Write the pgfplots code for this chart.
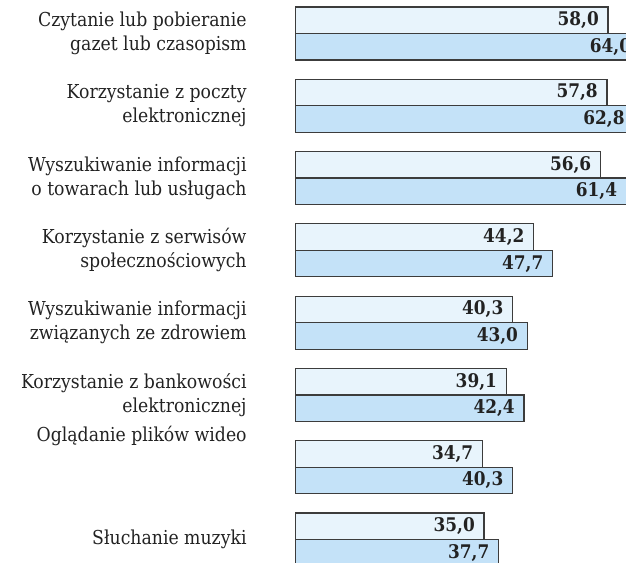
\documentclass[border=0pt]{standalone}
\usepackage{pgfplots}
\pgfplotsset{compat=1.18}
\usepackage{fontspec}
\setmainfont{DejaVu Serif Condensed}
\definecolor{barA}{HTML}{E8F4FC}
\definecolor{barB}{HTML}{C4E2F8}
\definecolor{edge}{HTML}{3C3C3C}
\definecolor{txt}{HTML}{222222}
\begin{document}
\begin{tikzpicture}
\begin{axis}[
  x=2.695pt, y=36.15pt,
  y dir=reverse,
  xmin=0, xmax=70, ymin=-0.463, ymax=7.6,
  axis x line=none,
  axis y line*=left,
  y axis line style={draw=none},
  clip=false,
  ytick={0,...,7},
  yticklabels={
    {Czytanie lub pobieranie\\gazet lub czasopism},
    {Korzystanie z poczty\\elektronicznej},
    {Wyszukiwanie informacji\\o towarach lub usługach},
    {Korzystanie z serwisów\\społecznościowych},
    {Wyszukiwanie informacji\\związanych ze zdrowiem},
    {Korzystanie z bankowości\\elektronicznej},
    {\raisebox{33pt}{Oglądanie plików wideo}},
    {Słuchanie muzyki}},
  yticklabel style={align=right, font=\fontsize{9.6}{12}\selectfont, text=txt, inner sep=0pt, anchor=east, xshift=-24.25pt},
  major tick length=0pt,
  bar width=13.25pt,
  point meta=x,
  nodes near coords,
  /pgf/number format/.cd, fixed, fixed zerofill, precision=1, use comma, assume math mode=true,
  /pgfplots/.cd,
  every node near coord/.append style={anchor=east, xshift=-1pt, font=\bfseries\fontsize{9.4}{11}\selectfont, text=txt},
]
\addplot+[xbar, bar shift=6.625pt, draw=edge, line width=0.6pt, fill=barA, mark=none,
  every node near coord/.append style={yshift=6.625pt}] coordinates {
  (58.0,0) (57.8,1) (56.6,2) (44.2,3) (40.3,4) (39.1,5) (34.7,6) (35.0,7)};
\addplot+[xbar, bar shift=-6.625pt, draw=edge, line width=0.6pt, fill=barB, mark=none,
  every node near coord/.append style={yshift=-6.625pt}] coordinates {
  (64.0,0) (62.8,1) (61.4,2) (47.7,3) (43.0,4) (42.4,5) (40.3,6) (37.7,7)};
\coordinate (tr) at (axis cs:61.33,-0.463);
\coordinate (bl) at (axis cs:0,7.324);
\end{axis}
\pgfresetboundingbox
\path ([xshift=-147.75pt]bl) rectangle (tr);
\end{tikzpicture}
\end{document}
